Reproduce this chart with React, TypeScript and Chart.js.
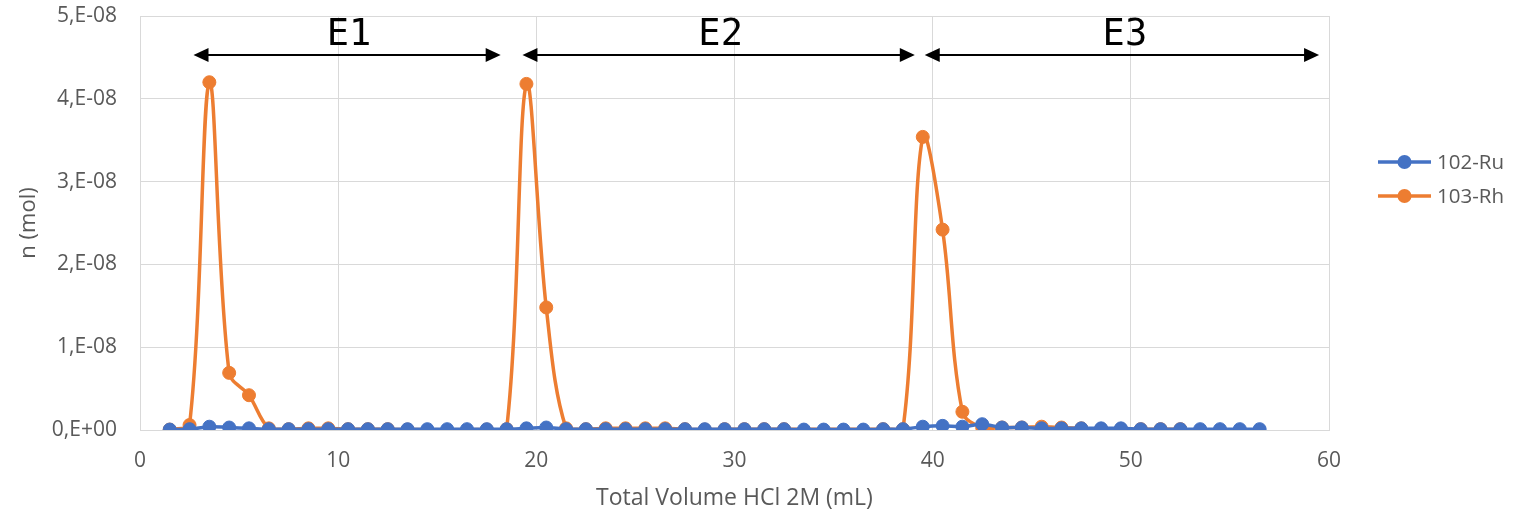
import React, { useEffect, useRef } from "react";
import { Chart, registerables } from "chart.js";

Chart.register(...registerables);

// Total volume HCl 2M (mL)
const volume = [
  1.5, 2.5, 3.5, 4.5, 5.5, 6.5, 7.5, 8.5, 9.5, 10.5, 11.5, 12.5, 13.5, 14.5,
  15.5, 16.5, 17.5, 18.5, 19.5, 20.5, 21.5, 22.5, 23.5, 24.5, 25.5, 26.5, 27.5,
  28.5, 29.5, 30.5, 31.5, 32.5, 33.5, 34.5, 35.5, 36.5, 37.5, 38.5, 39.5, 40.5,
  41.5, 42.5, 43.5, 44.5, 45.5, 46.5, 47.5, 48.5, 49.5, 50.5, 51.5, 52.5, 53.5,
  54.5, 55.5, 56.5,
];

// 102-Ru (mol)
const ru102 = [
  0.5e-10, 1e-10, 4e-10, 3e-10, 2e-10, 1e-10, 1e-10, 1e-10, 1e-10, 1e-10,
  1e-10, 1e-10, 1e-10, 1e-10, 1e-10, 1e-10, 1e-10, 1e-10, 2e-10, 3e-10,
  1e-10, 1e-10, 1e-10, 1e-10, 1e-10, 1e-10, 1e-10, 1e-10, 1e-10, 1e-10,
  1e-10, 1e-10, 0.5e-10, 0.5e-10, 0.5e-10, 0.5e-10, 1e-10, 1e-10, 4e-10, 5e-10,
  4e-10, 7e-10, 3e-10, 3e-10, 2e-10, 2e-10, 2e-10, 2e-10, 2e-10, 1e-10,
  1e-10, 1e-10, 1e-10, 1e-10, 1e-10, 1e-10,
];

// 103-Rh (mol); null = no measurement (line bridges the gap)
const rh103 = [
  0.5e-10, 6e-10, 4.2e-8, 6.9e-9, 4.2e-9, 2e-10, 1e-10, 2e-10, 2e-10, 1e-10,
  1e-10, 1e-10, 0.5e-10, null, null, null, 0.5e-10, 1e-10, 4.18e-8, 1.48e-8,
  2e-10, 1e-10, 2e-10, 2e-10, 2e-10, 2e-10, 1e-10, 0.5e-10, 1e-10, 1e-10,
  1e-10, 1e-10, null, null, null, null, 1e-10, 1e-10, 3.54e-8, 2.42e-8,
  2.2e-9, 3e-10, 3e-10, 3e-10, 4e-10, 3e-10, 2e-10, 1e-10, 1e-10, 1e-10,
  1e-10, 1e-10, null, null, null, null,
];

const xTickValues = [0, 10, 20, 30, 40, 50, 60];
const yTickValues = [0, 1e-8, 2e-8, 3e-8, 4e-8, 5e-8];

// Elution regions (data coordinates)
const regionLabels = ["E1", "E2", "E3"];
const regionStart = [2.7, 19.3, 39.6];
const regionEnd = [18.2, 39.1, 59.5];
const regionLabelX = [10.55, 29.3, 49.7];
const arrowLevel = 4.53e-8;
const labelLevel = 4.77e-8;

const seriesNames = ["102-Ru", "103-Rh"];
const seriesColors = ["#4472C4", "#ED7D31"];

const FONT = "'Open Sans', 'Noto Sans', sans-serif";
const MONO = "'DejaVu Sans Mono', 'Liberation Mono', monospace";
const GREY = "#595959";

const overlayPlugin = {
  id: "overlay",
  afterDraw(chart: any) {
    const ctx = chart.ctx;
    const xs = chart.scales.x;
    const ys = chart.scales.y;
    ctx.save();
    // region arrows
    const ay = ys.getPixelForValue(arrowLevel);
    ctx.strokeStyle = "#000";
    ctx.fillStyle = "#000";
    ctx.lineWidth = 2;
    const head = 15;
    const half = 7;
    for (let i = 0; i < regionLabels.length; i++) {
      const x1 = xs.getPixelForValue(regionStart[i]);
      const x2 = xs.getPixelForValue(regionEnd[i]);
      ctx.beginPath();
      ctx.moveTo(x1 + head - 1, ay);
      ctx.lineTo(x2 - head + 1, ay);
      ctx.stroke();
      ctx.beginPath();
      ctx.moveTo(x1, ay);
      ctx.lineTo(x1 + head, ay - half);
      ctx.lineTo(x1 + head, ay + half);
      ctx.closePath();
      ctx.fill();
      ctx.beginPath();
      ctx.moveTo(x2, ay);
      ctx.lineTo(x2 - head, ay - half);
      ctx.lineTo(x2 - head, ay + half);
      ctx.closePath();
      ctx.fill();
      ctx.font = `37px ${MONO}`;
      ctx.textAlign = "center";
      ctx.textBaseline = "middle";
      ctx.fillText(
        regionLabels[i],
        xs.getPixelForValue(regionLabelX[i]),
        ys.getPixelForValue(labelLevel)
      );
    }
    // legend
    const lx = 1378;
    const ly = [162, 196];
    for (let i = 0; i < seriesNames.length; i++) {
      ctx.strokeStyle = seriesColors[i];
      ctx.fillStyle = seriesColors[i];
      ctx.lineWidth = 3.5;
      ctx.beginPath();
      ctx.moveTo(lx, ly[i]);
      ctx.lineTo(lx + 53, ly[i]);
      ctx.stroke();
      ctx.beginPath();
      ctx.arc(lx + 26.5, ly[i], 7, 0, Math.PI * 2);
      ctx.fill();
      ctx.fillStyle = GREY;
      ctx.font = `20.5px ${FONT}`;
      ctx.textAlign = "left";
      ctx.textBaseline = "middle";
      ctx.fillText(seriesNames[i], lx + 59, ly[i] + 1);
    }
    ctx.restore();
  },
};

export default function App() {
  const canvasRef = useRef<HTMLCanvasElement | null>(null);

  useEffect(() => {
    document.body.style.margin = "0";
    const canvas = canvasRef.current;
    if (!canvas) return;
    const toPoints = (arr: (number | null)[]) =>
      volume.map((v, i) => ({ x: v, y: arr[i] }));
    const chart = new Chart(canvas, {
      type: "line",
      data: {
        datasets: [
          {
            label: seriesNames[0],
            data: toPoints(ru102) as any,
            borderColor: seriesColors[0],
            backgroundColor: seriesColors[0],
            borderWidth: 3.5,
            pointRadius: 6.5,
            pointBorderWidth: 1,
            pointBackgroundColor: seriesColors[0],
            pointBorderColor: seriesColors[0],
            tension: 0.35,
            spanGaps: true,
          },
          {
            label: seriesNames[1],
            data: toPoints(rh103) as any,
            borderColor: seriesColors[1],
            backgroundColor: seriesColors[1],
            borderWidth: 3.5,
            pointRadius: 6.5,
            pointBorderWidth: 1,
            pointBackgroundColor: seriesColors[1],
            pointBorderColor: seriesColors[1],
            tension: 0.35,
            spanGaps: true,
          },
        ],
      },
      options: {
        animation: false,
        responsive: false,
        maintainAspectRatio: false,
        layout: { padding: { top: 16, right: 200, left: 0, bottom: 0 } },
        plugins: {
          legend: { display: false },
          tooltip: { enabled: false },
        },
        scales: {
          x: {
            type: "linear",
            min: 0,
            max: 60,
            afterBuildTicks: (s: any) => {
              s.ticks = xTickValues.map((v) => ({ value: v }));
            },
            afterFit: (s: any) => {
              s.height = 84;
              s.paddingLeft = 0;
              s.paddingRight = 0;
            },
            grid: { color: "#d9d9d9", lineWidth: 1, drawTicks: false },
            border: { color: "#d9d9d9" },
            ticks: {
              color: GREY,
              font: { family: FONT, size: 21 },
              padding: 18,
              maxRotation: 0,
            },
            title: {
              display: true,
              text: "Total Volume HCl 2M (mL)",
              color: GREY,
              font: { family: FONT, size: 23 },
              padding: { top: 0, bottom: 2 },
            },
          },
          y: {
            type: "linear",
            min: 0,
            max: 5e-8,
            afterBuildTicks: (s: any) => {
              s.ticks = yTickValues.map((v) => ({ value: v }));
            },
            afterFit: (s: any) => {
              s.width = 140;
              s.paddingTop = 0;
              s.paddingBottom = 0;
            },
            grid: { color: "#d9d9d9", lineWidth: 1, drawTicks: false },
            border: { color: "#d9d9d9" },
            ticks: {
              color: GREY,
              font: { family: FONT, size: 21 },
              padding: 23,
              callback: (v: any) =>
                v === 0 ? "0,E+00" : `${Math.round(v / 1e-8)},E-08`,
            },
            title: {
              display: true,
              text: "n (mol)",
              color: GREY,
              font: { family: FONT, size: 22 },
              padding: { top: 16, bottom: 0 },
            },
          },
        },
      },
      plugins: [overlayPlugin],
    });
    return () => chart.destroy();
  }, []);

  return (
    <div style={{ position: "fixed", left: 0, top: 0, width: 1529, height: 514, background: "#fff" }}>
      <canvas ref={canvasRef} width={1529} height={514} style={{ width: 1529, height: 514 }} />
    </div>
  );
}
